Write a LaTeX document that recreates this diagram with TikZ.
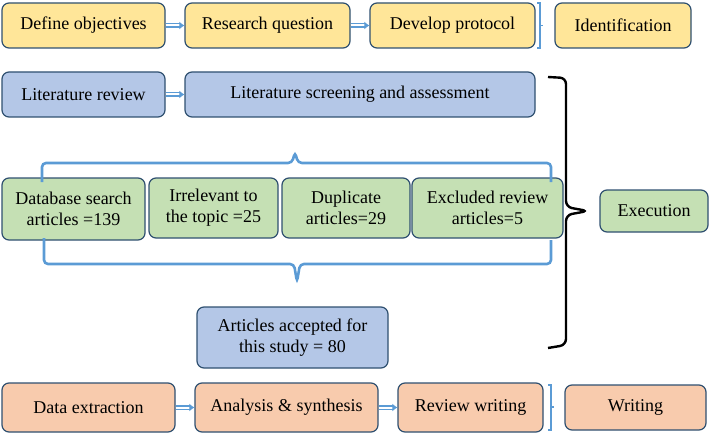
\documentclass[tikz,border=0pt]{standalone}
\usepackage{fontspec}
\setmainfont{Liberation Serif}
\usetikzlibrary{arrows.meta}
\definecolor{yel}{HTML}{FFE699}
\definecolor{blu}{HTML}{B4C7E7}
\definecolor{grn}{HTML}{C5E0B4}
\definecolor{org}{HTML}{F8CBAD}
\definecolor{edge}{HTML}{2F5070}
\definecolor{brc}{HTML}{5B9BD5}
\begin{document}
\begin{tikzpicture}[x=1pt,y=-1pt,
 bx/.style={draw=edge,line width=1.2pt,rounded corners=7pt,align=center,font=\fontsize{18}{21}\selectfont,inner sep=0pt},
 arr/.style={draw=brc,double=white,double distance=2pt,line width=1.2pt,-{Latex[length=5pt,width=8pt]}},
 br/.style={draw=brc,line width=2.6pt}]
\useasboundingbox (0,0) rectangle (709,433);
\newcommand\bxn[7]{\node[bx,fill=#6,minimum width=#3-#2,minimum height=#5-#4] (#1) at ({(#2+#3)/2},{(#4+#5)/2}) {#7};}
\bxn{a1}{2}{165}{3}{48}{yel}{Define objectives}
\bxn{a2}{185}{350}{3}{48}{yel}{Research question}
\bxn{a3}{370}{535}{3}{48}{yel}{Develop protocol}
\bxn{a4}{555}{691}{3}{48}{yel}{Identification}
\bxn{b1}{2}{165}{72}{117}{blu}{Literature review}
\bxn{b2}{185}{535}{72}{117}{blu}{Literature screening and assessment}
\bxn{g1}{2}{145}{178}{240}{grn}{Database search\\articles =139}
\bxn{g2}{149}{278}{178}{238}{grn}{Irrelevant to\\the topic =25}
\bxn{g3}{282}{410}{178}{238}{grn}{Duplicate\\articles=29}
\bxn{g4}{412}{563}{178}{238}{grn}{Excluded review\\articles=5}
\bxn{ex}{600}{708}{190}{232}{grn}{Execution}
\bxn{acc}{197}{388}{307}{368}{blu}{Articles accepted for\\this study = 80}
\bxn{c1}{2}{175}{383}{432}{org}{Data extraction}
\bxn{c2}{195}{378}{383}{432}{org}{Analysis \& synthesis}
\bxn{c3}{398}{543}{383}{432}{org}{Review writing}
\bxn{c4}{565}{706}{385}{430}{org}{Writing}
\draw[arr] (a1) -- (a2);
\draw[arr] (a2) -- (a3);
\draw[arr] (b1) -- (b2);
\draw[arr] (c1) -- (c2);
\draw[arr] (c2) -- (c3);
% small brackets
\draw[draw=brc,line width=1.5pt] (537,3) -- (540,3) -- (540,48) -- (537,48) (540,25.5) -- (543,25.5);
\draw[draw=brc,line width=1.5pt] (548,385) -- (551,385) -- (551,430) -- (548,430) (551,407) -- (554,407);
% blue braces
\draw[br,rounded corners=4pt] (42,182) -- (42,163) -- (292,163) -- (295,152) -- (298,163) -- (551,163) -- (551,182);
\draw[br,rounded corners=4pt] (44,238) -- (44,264) -- (294,264) -- (297,282) -- (300,264) -- (551,264) -- (551,240);
% black brace
\draw[line width=2.4pt,rounded corners=6pt] (548,77) -- (566,78) -- (566,207) -- (588,211) -- (566,215) -- (566,345) -- (548,348);
\end{tikzpicture}
\end{document}
